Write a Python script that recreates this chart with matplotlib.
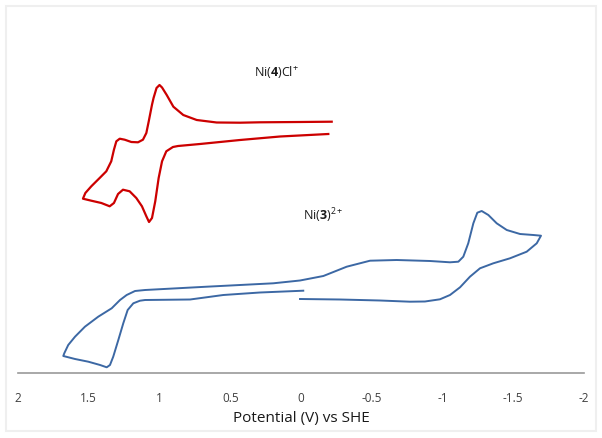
import matplotlib
matplotlib.use("Agg")
import matplotlib.pyplot as plt
from matplotlib.patches import Rectangle

plt.rcParams['font.family'] = ['Open Sans', 'DejaVu Sans']
plt.rcParams['mathtext.fontset'] = 'custom'
plt.rcParams['mathtext.rm'] = 'Open Sans'
plt.rcParams['mathtext.bf'] = 'Open Sans:bold'

# Ni(4)Cl+ voltammogram (potential V vs SHE, current arbitrary units)
red_v = [-0.217, 0.007, 0.290, 0.431, 0.596, 0.737, 0.832, 0.902, 0.949, 0.982,
         1.000, 1.021, 1.042, 1.053, 1.076, 1.093, 1.117, 1.152, 1.199, 1.246,
         1.281, 1.305, 1.322, 1.341, 1.376, 1.423, 1.482, 1.524, 1.541,
         1.482, 1.411, 1.352, 1.322, 1.293, 1.258, 1.211, 1.164, 1.124, 1.093,
         1.074, 1.053, 1.030, 1.006, 0.982, 0.952, 0.905, 0.869, 0.714, 0.431,
         0.148, -0.193]
red_i = [2.513, 2.510, 2.507, 2.503, 2.505, 2.530, 2.580, 2.663, 2.780, 2.855,
         2.880, 2.850, 2.750, 2.683, 2.517, 2.400, 2.333, 2.307, 2.310, 2.333,
         2.343, 2.317, 2.233, 2.117, 2.017, 1.950, 1.867, 1.800, 1.743,
         1.723, 1.700, 1.667, 1.700, 1.790, 1.833, 1.817, 1.750, 1.667, 1.567,
         1.510, 1.550, 1.717, 1.950, 2.117, 2.217, 2.260, 2.270, 2.290, 2.330,
         2.365, 2.390]

# Ni(3)2+ voltammogram
blue_v = [0.007, -0.276, -0.558, -0.770, -0.876, -0.982, -1.053, -1.124, -1.194, -1.265,
          -1.359, -1.477, -1.595, -1.666, -1.696,
          -1.642, -1.548, -1.454, -1.383, -1.324, -1.277, -1.246, -1.218, -1.182, -1.147,
          -1.112, -1.053, -0.912, -0.676, -0.488, -0.323, -0.158, 0.007, 0.196, 0.666,
          1.102, 1.173, 1.232, 1.279, 1.338, 1.433, 1.527, 1.597, 1.645, 1.673, 1.680,
          1.597, 1.503, 1.420, 1.373, 1.350, 1.327, 1.291, 1.256, 1.225, 1.185,
          1.138, 1.102, 0.784, 0.549, 0.290, -0.016]
blue_i = [0.740, 0.735, 0.725, 0.713, 0.715, 0.737, 0.780, 0.857, 0.963, 1.047,
          1.097, 1.147, 1.213, 1.297, 1.373,
          1.380, 1.390, 1.430, 1.497, 1.580, 1.620, 1.603, 1.497, 1.297, 1.163,
          1.113, 1.107, 1.120, 1.130, 1.123, 1.063, 0.970, 0.925, 0.897, 0.863,
          0.830, 0.820, 0.780, 0.730, 0.647, 0.563, 0.463, 0.363, 0.280, 0.197, 0.170,
          0.140, 0.113, 0.080, 0.057, 0.080, 0.163, 0.330, 0.497, 0.630, 0.697,
          0.723, 0.730, 0.735, 0.780, 0.805, 0.823]

xticks = [2, 1.5, 1, 0.5, 0, -0.5, -1, -1.5, -2]
xtick_labels = ['2', '1.5', '1', '0.5', '0', '-0.5', '-1', '-1.5', '-2']

fig = plt.figure(figsize=(6.02, 4.38), dpi=100)
fig.patches.append(Rectangle((6/602, 7/438), 590/602, 425/438, transform=fig.transFigure,
                             fill=False, edgecolor='#efefef', linewidth=1.5))
ax = fig.add_axes([18/602, 65/438, 566/602, 350/438])
ax.plot(red_v, red_i, color='#CC0000', linewidth=1.6, solid_joinstyle='round')
ax.plot(blue_v, blue_i, color='#3C68A4', linewidth=1.4, solid_joinstyle='round')

ax.set_xlim(2, -2)
ax.set_ylim(0, 3.5)
ax.set_xticks(xticks)
ax.set_xticklabels(xtick_labels, fontsize=8.5, color='#404040')
ax.tick_params(axis='x', length=0, pad=14)
ax.set_yticks([])
for s in ['left', 'right', 'top']:
    ax.spines[s].set_visible(False)
ax.spines['bottom'].set_color('#9a9a9a')
ax.spines['bottom'].set_linewidth(1.2)
ax.set_xlabel('Potential (V) vs SHE', fontsize=11, color='#1a1a1a', labelpad=4)

ax.text(0.175, 3.01, r'Ni($\mathbf{4}$)Cl$^{+}$', fontsize=9, ha='center', va='center', color='#1a1a1a')
ax.text(-0.16, 1.57, r'Ni($\mathbf{3}$)$^{2+}$', fontsize=9, ha='center', va='center', color='#1a1a1a')

fig.savefig('out.png', dpi=100)
